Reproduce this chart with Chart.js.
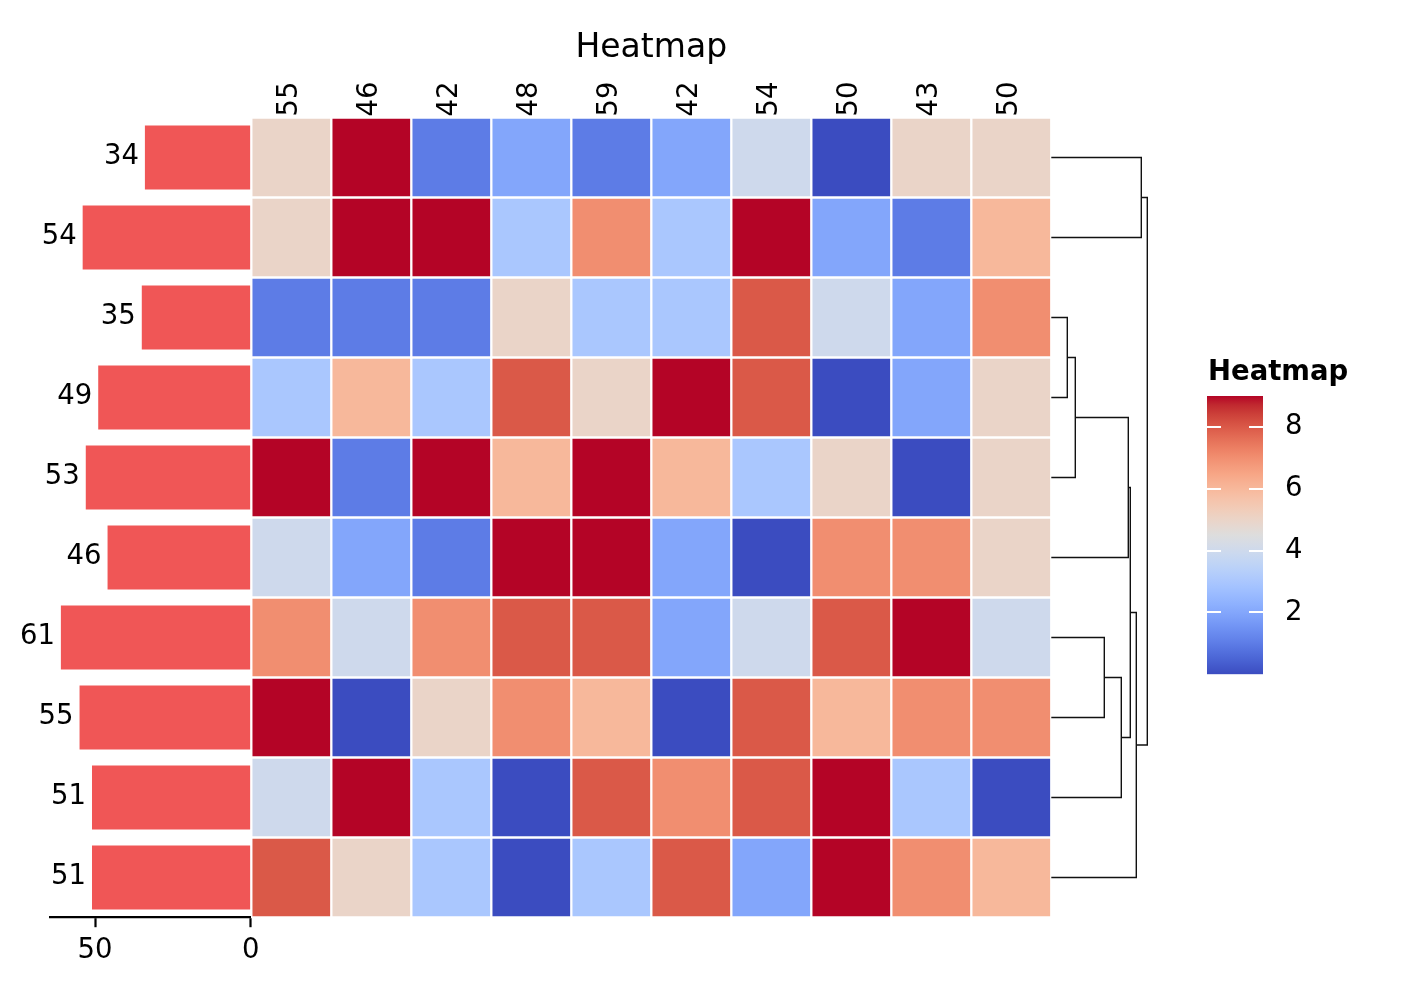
<!DOCTYPE html>
<html><head><meta charset="utf-8">
<script src="https://cdn.jsdelivr.net/npm/chart.js@4.4.1/dist/chart.umd.min.js"></script>
<style>
html,body{margin:0;padding:0;background:#fff;}
#wrap{position:relative;width:1424px;height:984px;overflow:hidden;background:#fff;}
#wrap canvas{position:absolute;left:0;top:0;}
</style></head><body>
<div id="wrap">
<canvas id="bars" width="1424" height="984"></canvas>
<canvas id="heat" width="1424" height="984"></canvas>
<canvas id="dendro" width="1424" height="984"></canvas>
<canvas id="cbar" width="1424" height="984"></canvas>
</div>
<script>
// ---------- data ----------
const rowTotals = [34, 54, 35, 49, 53, 46, 61, 55, 51, 51];
const colTotals = [55, 46, 42, 48, 59, 42, 54, 50, 43, 50];
const cellValues = [
  [5, 9, 1, 2, 1, 2, 4, 0, 5, 5],
  [5, 9, 9, 3, 7, 3, 9, 2, 1, 6],
  [1, 1, 1, 5, 3, 3, 8, 4, 2, 7],
  [3, 6, 3, 8, 5, 9, 8, 0, 2, 5],
  [9, 1, 9, 6, 9, 6, 3, 5, 0, 5],
  [4, 2, 1, 9, 9, 2, 0, 7, 7, 5],
  [7, 4, 7, 8, 8, 2, 4, 8, 9, 4],
  [9, 0, 5, 7, 6, 0, 8, 6, 7, 7],
  [4, 9, 3, 0, 8, 7, 8, 9, 3, 0],
  [8, 5, 3, 0, 3, 8, 2, 9, 7, 6]
];
const barTicks = [0, 50];
const colorbarRange = [0, 9];
const colorbarTicks = [2, 4, 6, 8];
// dendrogram linkage (leaves 0..9, merged nodes 10..18)
const linkLeft   = [2, 10, 6, 12, 11, 14, 15, 0, 17];
const linkRight  = [3, 4, 7, 8, 5, 13, 9, 1, 16];
const linkHeight = [1.6, 2.4, 5.3, 7.0, 7.7, 7.9, 8.5, 9.0, 9.6];

// ---------- styles ----------
const palette = ['#3b4cc0', '#5d7ce6', '#83a6fb', '#aac7fe', '#ced9ec',
                 '#ead4c8', '#f7b89b', '#f18e70', '#da5948', '#b40426'];
const coolwarmStops = [
  [59,76,192],[68,90,204],[77,104,215],[87,117,225],[98,130,234],[108,142,241],
  [119,154,247],[130,165,251],[141,176,254],[152,185,255],[163,194,255],[174,201,253],
  [184,208,249],[194,213,244],[204,217,238],[213,219,230],[221,221,221],[229,216,209],
  [236,211,197],[241,204,184],[245,196,172],[247,187,159],[247,177,147],[247,166,134],
  [244,154,123],[241,141,111],[236,127,99],[229,112,88],[222,96,77],[213,80,66],
  [203,62,56],[192,40,47],[180,4,38]
];
const FONT = "'DejaVu Sans', sans-serif";
Chart.defaults.font.family = FONT;
Chart.defaults.color = '#000';
const W = 1424, H = 984;
const heatLeft = 251.3, heatRight = 1051.3, heatTop = 117.5, heatBottom = 917.5;
const TICK_SIZE = 27.5;
const TITLE_PAD = 28.3;

const baseOpts = {
  responsive: false, animation: false, events: [], devicePixelRatio: 1
};

// ---------- left bar chart ----------
const barLabelPlugin = {
  id: 'barLabels',
  afterDatasetsDraw(chart) {
    const ctx = chart.ctx;
    const meta = chart.getDatasetMeta(0);
    const vals = chart.data.datasets[0].data;
    ctx.save();
    ctx.font = TICK_SIZE + 'px ' + FONT;
    ctx.fillStyle = '#000';
    ctx.textAlign = 'right';
    ctx.textBaseline = 'middle';
    meta.data.forEach((bar, i) => {
      ctx.fillText(String(vals[i]), bar.x - 6, bar.y - 1);
    });
    ctx.restore();
  }
};
new Chart(document.getElementById('bars'), {
  type: 'bar',
  data: {
    labels: rowTotals.map(String),
    datasets: [{
      data: rowTotals, backgroundColor: '#f05656', borderWidth: 0,
      barPercentage: 0.8, categoryPercentage: 1
    }]
  },
  options: Object.assign({}, baseOpts, {
    indexAxis: 'y',
    layout: { padding: { left: 50.3, right: W - 250.7, top: heatTop, bottom: H - heatBottom - 50 } },
    plugins: { legend: { display: false }, tooltip: { enabled: false } },
    scales: {
      x: {
        position: 'bottom', reverse: true, min: 0, max: 64.4,
        afterBuildTicks: s => { s.ticks = barTicks.map(v => ({ value: v })); },
        afterFit: s => { s.height = 50; },
        grid: { drawOnChartArea: false, drawTicks: true, tickLength: 9.7, tickWidth: 2.2, tickColor: '#000' },
        border: { display: true, color: '#000', width: 2.2 },
        ticks: { padding: 7, font: { size: TICK_SIZE }, color: '#000', maxRotation: 0 }
      },
      y: { display: false }
    }
  }),
  plugins: [barLabelPlugin]
});

// ---------- heatmap ----------
const heatSets = cellValues.map((row, r) => ({
  data: row.map(() => [r, r + 1]),
  backgroundColor: row.map(v => palette[v]),
  borderColor: '#ffffff', borderWidth: 1.5, borderSkipped: false,
  barPercentage: 1, categoryPercentage: 1, grouped: false
}));
new Chart(document.getElementById('heat'), {
  type: 'bar',
  data: { labels: colTotals.map(String), datasets: heatSets },
  options: Object.assign({}, baseOpts, {
    layout: { padding: { left: heatLeft, right: W - heatRight, top: 0, bottom: H - heatBottom } },
    plugins: {
      legend: { display: false }, tooltip: { enabled: false },
      title: { display: true, text: 'Heatmap', color: '#000',
               font: { size: 33, weight: 'normal' }, padding: { top: TITLE_PAD, bottom: 0 } }
    },
    scales: {
      x: {
        position: 'top',
        grid: { display: false, drawTicks: false }, border: { display: false },
        ticks: { autoSkip: false, minRotation: 90, maxRotation: 90, padding: 1,
                 labelOffset: 32, font: { size: TICK_SIZE }, color: '#000' },
        afterFit: s => { s.height = heatTop - (TITLE_PAD + 33 * 1.2); }
      },
      y: { display: false, min: 0, max: 10, reverse: true }
    }
  })
});

// ---------- dendrogram ----------
const nodeY = rowTotals.map((_, i) => i + 0.5);
const nodeH = rowTotals.map(() => 0);
const dendroSets = linkLeft.map((a, k) => {
  const b = linkRight[k], h = linkHeight[k];
  const pts = [
    { x: nodeH[a], y: nodeY[a] }, { x: h, y: nodeY[a] },
    { x: h, y: nodeY[b] }, { x: nodeH[b], y: nodeY[b] }
  ];
  nodeY.push((nodeY[a] + nodeY[b]) / 2);
  nodeH.push(h);
  return { data: pts, showLine: true, borderColor: '#111', borderWidth: 1.4,
           pointRadius: 0, clip: false, tension: 0, borderJoinStyle: 'miter' };
});
new Chart(document.getElementById('dendro'), {
  type: 'scatter',
  data: { datasets: dendroSets },
  options: Object.assign({}, baseOpts, {
    layout: { padding: { left: heatRight, right: W - (heatRight + 100), top: heatTop, bottom: H - heatBottom } },
    plugins: { legend: { display: false }, tooltip: { enabled: false } },
    scales: {
      x: { display: false, min: 0, max: 10 },
      y: { display: false, min: 0, max: 10, reverse: true }
    }
  })
});

// ---------- colorbar ----------
const cbTitlePlugin = {
  id: 'cbTitle',
  afterDraw(chart, args, opts) {
    const { ctx, chartArea: ca } = chart;
    ctx.save();
    ctx.font = 'bold ' + TICK_SIZE + 'px ' + FONT;
    ctx.fillStyle = '#000';
    ctx.textAlign = 'left';
    ctx.textBaseline = 'alphabetic';
    ctx.fillText(opts.text, ca.left + 1, ca.top - 16.5);
    ctx.restore();
  }
};
function cbGradient(c) {
  const ch = c.chart;
  if (!ch.chartArea) return palette[4];
  const y = ch.scales.y;
  const g = ch.ctx.createLinearGradient(0, y.getPixelForValue(colorbarRange[0]), 0, y.getPixelForValue(colorbarRange[1]));
  coolwarmStops.forEach((rgb, i) => g.addColorStop(i / (coolwarmStops.length - 1), 'rgb(' + rgb.join(',') + ')'));
  return g;
}
const cbLeft = 1207, cbRight = 1263, cbTop = 396, cbBottom = 674.3, cbAxisW = 60;
new Chart(document.getElementById('cbar'), {
  type: 'bar',
  data: { labels: [''], datasets: [{ data: [colorbarRange], backgroundColor: cbGradient,
          borderWidth: 0, barPercentage: 1, categoryPercentage: 1 }] },
  options: Object.assign({}, baseOpts, {
    layout: { padding: { left: cbLeft, right: W - cbRight - cbAxisW, top: cbTop, bottom: H - cbBottom } },
    plugins: { legend: { display: false }, tooltip: { enabled: false }, cbTitle: { text: 'Heatmap' } },
    scales: {
      x: { display: false },
      y: {
        position: 'right', min: colorbarRange[0], max: colorbarRange[1],
        afterBuildTicks: s => { s.ticks = colorbarTicks.map(v => ({ value: v })); },
        afterFit: s => { s.width = cbAxisW; },
        grid: { color: '#ffffff', lineWidth: 2, drawTicks: false, z: 1 },
        border: { display: false, dash: [14, 28] },
        ticks: { padding: 22, font: { size: TICK_SIZE }, color: '#000' }
      }
    }
  }),
  plugins: [cbTitlePlugin]
});
</script>
</body></html>
